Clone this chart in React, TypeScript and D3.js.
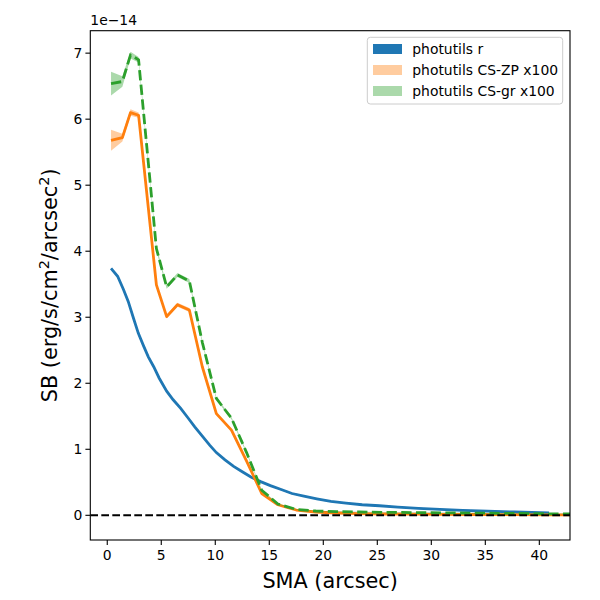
import * as d3 from "d3";

// surface brightness profiles, units of 1e-14 erg/s/cm^2/arcsec^2
const smaR = [0.35, 0.96, 1.5, 1.94, 2.4, 2.87, 3.35, 3.8, 4.3, 4.8, 5.5, 6.1, 6.8, 7.5, 8.1, 8.8, 9.5, 10.1, 10.9, 11.7, 12.5, 13.3, 14.2, 15.1, 16.1, 17.1, 18.2, 19.4, 20.7, 22.1, 23.6, 25.2, 26.9, 28.8, 30.8, 32.9, 35.2, 37.7, 40.9];
const sbR = [3.74, 3.62, 3.42, 3.24, 3.0, 2.76, 2.57, 2.4, 2.25, 2.08, 1.88, 1.75, 1.62, 1.47, 1.34, 1.2, 1.06, 0.95, 0.84, 0.74, 0.66, 0.58, 0.51, 0.45, 0.39, 0.33, 0.29, 0.25, 0.21, 0.185, 0.16, 0.145, 0.125, 0.105, 0.09, 0.075, 0.062, 0.05, 0.035];
const errR = sbR.map(() => 0.01);

const smaCS = [0.35, 1.4, 2.15, 2.9, 4.55, 5.5, 6.5, 7.6, 8.8, 10.1, 11.5, 12.9, 14.3, 15.8, 17.5, 19.3, 21.2, 23.3, 25.6, 28.2, 31.0, 34.1, 37.5, 41.3, 45.4];
const sbZP = [5.68, 5.72, 6.1, 6.06, 3.49, 3.01, 3.19, 3.11, 2.25, 1.54, 1.29, 0.82, 0.33, 0.16, 0.08, 0.05, 0.035, 0.025, 0.02, 0.017, 0.014, 0.012, 0.01, 0.008, 0.006];
const errZP = [0.16, 0.06, 0.05, 0.04, 0.03, 0.03, 0.03, 0.03, 0.02, 0.02, 0.02, 0.015, 0.01, 0.008, 0.006, 0.005, 0.004, 0.004, 0.003, 0.003, 0.003, 0.003, 0.003, 0.003, 0.003];
const sbGR = [6.54, 6.57, 6.97, 6.9, 4.04, 3.46, 3.64, 3.55, 2.62, 1.77, 1.47, 0.95, 0.38, 0.17, 0.09, 0.065, 0.055, 0.05, 0.045, 0.042, 0.038, 0.033, 0.028, 0.022, 0.018];
const errGR = [0.18, 0.08, 0.05, 0.04, 0.035, 0.03, 0.03, 0.03, 0.025, 0.02, 0.02, 0.015, 0.012, 0.008, 0.006, 0.005, 0.005, 0.004, 0.004, 0.004, 0.004, 0.004, 0.004, 0.004, 0.004];

const xTicks = [0, 5, 10, 15, 20, 25, 30, 35, 40];
const yTicks = [0, 1, 2, 3, 4, 5, 6, 7];

const legendItems = [
  { label: "photutils r", color: "#1f77b4", opacity: 1 },
  { label: "photutils CS-ZP x100", color: "#ff7f0e", opacity: 0.4 },
  { label: "photutils CS-gr x100", color: "#2ca02c", opacity: 0.4 },
];

type Pt = { x: number; y: number; e: number };

function zipPts(xs: number[], ys: number[], es: number[]): Pt[] {
  return xs.map((x, i) => ({ x, y: ys[i], e: es[i] }));
}

export default function App() {
  const left = 90.3;
  const right = 570;
  const top = 30.7;
  const bottom = 540;
  const font = "DejaVu Sans, sans-serif";

  const x = d3.scaleLinear().domain([-1.57, 42.84]).range([left, right]);
  const y = d3.scaleLinear().domain([-0.374, 7.34]).range([bottom, top]);

  const line = d3
    .line<Pt>()
    .x((d) => x(d.x))
    .y((d) => y(d.y));
  const band = d3
    .area<Pt>()
    .x((d) => x(d.x))
    .y0((d) => y(d.y - d.e))
    .y1((d) => y(d.y + d.e));

  const r = zipPts(smaR, sbR, errR);
  const zp = zipPts(smaCS, sbZP, errZP);
  const gr = zipPts(smaCS, sbGR, errGR);

  return (
    <svg
      width={600}
      height={600}
      style={{ position: "absolute", left: 0, top: 0, background: "#fff" }}
      fontFamily={font}
    >
      <defs>
        <clipPath id="plot">
          <rect x={left} y={top} width={right - left} height={bottom - top} />
        </clipPath>
      </defs>

      <g clipPath="url(#plot)">
        <path d={band(r) ?? ""} fill="#1f77b4" />
        <path d={line(r) ?? ""} fill="none" stroke="#1f77b4" strokeWidth={2.8} />
        <path d={band(zp) ?? ""} fill="#ff7f0e" fillOpacity={0.4} />
        <path d={line(zp) ?? ""} fill="none" stroke="#ff7f0e" strokeWidth={2.8} strokeLinejoin="round" />
        <path d={band(gr) ?? ""} fill="#2ca02c" fillOpacity={0.4} />
        <path
          d={line(gr) ?? ""}
          fill="none"
          stroke="#2ca02c"
          strokeWidth={2.8}
          strokeDasharray="10.3,4.4"
        />
        <line
          x1={left}
          x2={right}
          y1={y(0)}
          y2={y(0)}
          stroke="#000"
          strokeWidth={2}
          strokeDasharray="7.7,3.3"
        />
      </g>

      {/* axes frame */}
      <rect x={left} y={top} width={right - left} height={bottom - top} fill="none" stroke="#000" strokeWidth={1.1} />

      {xTicks.map((t) => (
        <g key={"x" + t} transform={`translate(${x(t)},${bottom})`}>
          <line y2={4.9} stroke="#000" strokeWidth={1.1} />
          <text y={20} textAnchor="middle" fontSize={13.9} fill="#000">
            {t}
          </text>
        </g>
      ))}
      {yTicks.map((t) => (
        <g key={"y" + t} transform={`translate(${left},${y(t)})`}>
          <line x2={-4.9} stroke="#000" strokeWidth={1.1} />
          <text x={-8} dy="0.35em" textAnchor="end" fontSize={13.9} fill="#000">
            {t}
          </text>
        </g>
      ))}

      <text x={left} y={top - 6} fontSize={13.9} fill="#000">
        1e−14
      </text>

      <text x={(left + right) / 2} y={588} textAnchor="middle" fontSize={20.8} fill="#000">
        SMA (arcsec)
      </text>
      <text
        transform={`translate(57,${(top + bottom) / 2}) rotate(-90)`}
        textAnchor="middle"
        fontSize={20.8}
        fill="#000"
      >
        SB (erg/s/cm
        <tspan dy={-8} fontSize={14.5}>2</tspan>
        <tspan dy={8}>/arcsec</tspan>
        <tspan dy={-8} fontSize={14.5}>2</tspan>
        <tspan dy={8}>)</tspan>
      </text>

      {/* legend */}
      <g>
        <rect x={367.3} y={37.3} width={195.4} height={66.7} rx={3} fill="#fff" fillOpacity={0.8} stroke="#ccc" />
        {legendItems.map((d, i) => (
          <g key={d.label} transform={`translate(373,${49 + i * 21})`}>
            <rect x={0} y={-5} width={29} height={10} fill={d.color} fillOpacity={d.opacity} />
            <text x={39.3} dy="0.35em" fontSize={13.9} fill="#000">
              {d.label}
            </text>
          </g>
        ))}
      </g>
    </svg>
  );
}
